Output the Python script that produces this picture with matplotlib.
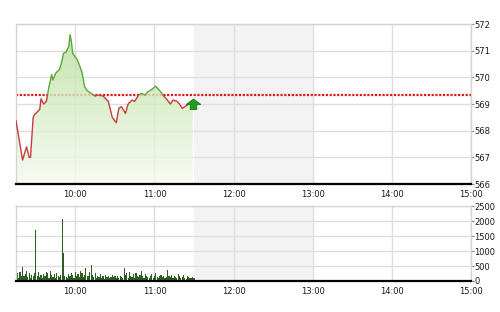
import matplotlib
matplotlib.use("Agg")
import matplotlib.pyplot as plt
import numpy as np
from matplotlib.patches import Rectangle
from matplotlib.path import Path
from matplotlib.colors import LinearSegmentedColormap

# Intraday index level (time, value)
price_times = [
    "09:15", "09:20", "09:23", "09:25", "09:26", "09:28", "09:29", "09:33",
    "09:34", "09:36", "09:38", "09:40", "09:42", "09:43", "09:45", "09:46",
    "09:48", "09:50", "09:51", "09:53", "09:55", "09:56", "09:57", "09:58",
    "10:01", "10:02", "10:05", "10:07", "10:09", "10:12", "10:15", "10:17",
    "10:21", "10:25", "10:28", "10:31", "10:33", "10:35", "10:38", "10:40",
    "10:43", "10:45", "10:48", "10:50", "10:53", "10:55", "10:58", "11:01",
    "11:02", "11:04", "11:07", "11:09", "11:12", "11:14", "11:17", "11:19",
    "11:21", "11:23", "11:26", "11:29",
]
price_values = [
    568.37, 566.90, 567.40, 567.00, 567.00, 568.50, 568.60, 568.80,
    569.20, 569.00, 569.10, 569.65, 570.10, 569.90, 570.15, 570.20,
    570.30, 570.65, 570.90, 570.96, 571.15, 571.60, 571.34, 570.90,
    570.70, 570.60, 570.20, 569.65, 569.50, 569.40, 569.30, 569.34,
    569.30, 569.10, 568.50, 568.30, 568.84, 568.90, 568.65, 569.00,
    569.15, 569.10, 569.34, 569.40, 569.34, 569.46, 569.55, 569.67,
    569.60, 569.50, 569.30, 569.20, 569.00, 569.15, 569.10, 569.00,
    568.84, 568.90, 569.00, 569.00,
]
ref_price = 569.34

# Per-minute traded volume starting 09:15
vol_start = "09:15"
volumes = [
    120, 260, 90, 310, 180, 470, 150, 220, 330, 140, 260, 90, 200, 160, 280,
    1700,
    150, 310, 120, 200, 90, 240, 170, 300, 260, 110, 330, 190, 140, 230, 100,
    250, 180, 120, 210,
    2060, 920,
    180, 130, 90, 240, 150, 270, 200, 110, 310, 170, 230, 140, 330, 260, 120,
    210, 440, 180,
    150, 290, 530, 200, 120, 260, 90, 180, 140, 230, 110, 170, 80, 200, 130,
    160, 90, 140, 210, 120, 180, 100, 150, 90, 170, 130, 110,
    440,
    200, 260, 110, 310, 180, 140, 230, 90, 270, 160, 120, 210, 330, 150, 100,
    240, 180, 130, 90, 170, 220, 110, 150, 260, 130, 90, 180, 200, 120, 160,
    100, 140,
    370,
    150, 120, 200, 90, 170, 130, 110, 240, 160, 90, 130, 200, 110, 80, 150,
    120, 100, 90, 130, 110,
]

hour_labels = ["10:00", "11:00", "12:00", "13:00", "14:00", "15:00"]
price_ticks = [566, 567, 568, 569, 570, 571, 572]
vol_ticks = [0, 500, 1000, 1500, 2000, 2500]
lunch_break = ("11:30", "13:00")
day_open, day_close = "09:15", "15:00"


def to_min(s):
    h, m = s.split(":")
    return int(h) * 60 + int(m)


t = np.array([to_min(s) for s in price_times], dtype=float)
v = np.array(price_values)
vt = to_min(vol_start) + np.arange(len(volumes))
x0, x1 = to_min(day_open), to_min(day_close)
hour_pos = [to_min(s) for s in hour_labels]

fig = plt.figure(figsize=(5.0, 3.12), dpi=100)
fig.patch.set_facecolor("white")
ax1 = fig.add_axes([0.032, 0.410, 0.910, 0.513])
ax2 = fig.add_axes([0.032, 0.0994, 0.910, 0.240])


def style_axes(ax, yticks):
    ax.axvspan(to_min(lunch_break[0]), to_min(lunch_break[1]),
               color="#f3f3f3", zorder=0, lw=0)
    ax.set_xlim(x0, x1)
    ax.set_ylim(yticks[0], yticks[-1])
    ax.set_xticks(hour_pos)
    ax.set_xticklabels(hour_labels)
    ax.set_yticks(yticks)
    ax.set_yticklabels([str(y) for y in yticks])
    ax.yaxis.tick_right()
    ax.grid(True, color="#dedede", lw=1.0)
    ax.set_axisbelow(True)
    for side in ("top", "left", "right"):
        ax.spines[side].set_color("#d4d4d4")
        ax.spines[side].set_linewidth(1.0)
    ax.spines["bottom"].set_color("black")
    ax.spines["bottom"].set_linewidth(1.6)
    ax.tick_params(axis="x", length=0, pad=4, labelsize=6, labelcolor="#1a1a1a")
    ax.tick_params(axis="y", length=2, width=0.8, color="#888888", pad=0.5,
                   labelsize=6, labelcolor="#1a1a1a")


style_axes(ax1, price_ticks)
style_axes(ax2, vol_ticks)

# Reference (previous close) level
ax1.axhline(ref_price, color="#e01818", lw=1.6, linestyle=(0, (1, 0.7)),
            zorder=1.5)

# Gradient area under the price line
fill = ax1.fill_between(t, v, price_ticks[0], facecolor="none",
                        edgecolor="none")
grad_cmap = LinearSegmentedColormap.from_list(
    "area", ["#f5faf1", "#d6edc4", "#b2db93"])
grad = np.linspace(0, 1, 256).reshape(-1, 1)
im = ax1.imshow(grad, cmap=grad_cmap, origin="lower", aspect="auto",
                extent=[t[0], t[-1], price_ticks[0], price_ticks[-1]],
                alpha=0.82, zorder=2)
im.set_clip_path(fill.get_paths()[0], transform=ax1.transData)
ax1.set_xlim(x0, x1)
ax1.set_ylim(price_ticks[0], price_ticks[-1])

# Price line: green above reference, red below
above = Rectangle((x0, ref_price), x1 - x0, 100, transform=ax1.transData)
below = Rectangle((x0, ref_price - 100), x1 - x0, 100, transform=ax1.transData)
ln_up, = ax1.plot(t, v, color="#5aa83a", lw=1.0, zorder=3)
ln_up.set_clip_path(above)
ln_dn, = ax1.plot(t, v, color="#c83c3c", lw=1.0, zorder=3)
ln_dn.set_clip_path(below)

# Direction arrow at the last price
arrow = Path([(0, 0.75), (1, 0), (0.45, 0), (0.45, -0.7), (-0.45, -0.7),
              (-0.45, 0), (-1, 0), (0, 0.75)],
             [Path.MOVETO] + [Path.LINETO] * 6 + [Path.CLOSEPOLY])
ax1.plot([t[-1]], [v[-1]], marker=arrow, markersize=10.5,
         markerfacecolor="#239b23", markeredgecolor="#177a17",
         markeredgewidth=0.6, zorder=4, linestyle="none")

# Volume bars
ax2.bar(vt, volumes, width=0.9, color="#2f5e22", lw=0, zorder=2,
        align="center")

fig.savefig("out.png", dpi=100, facecolor="white")
